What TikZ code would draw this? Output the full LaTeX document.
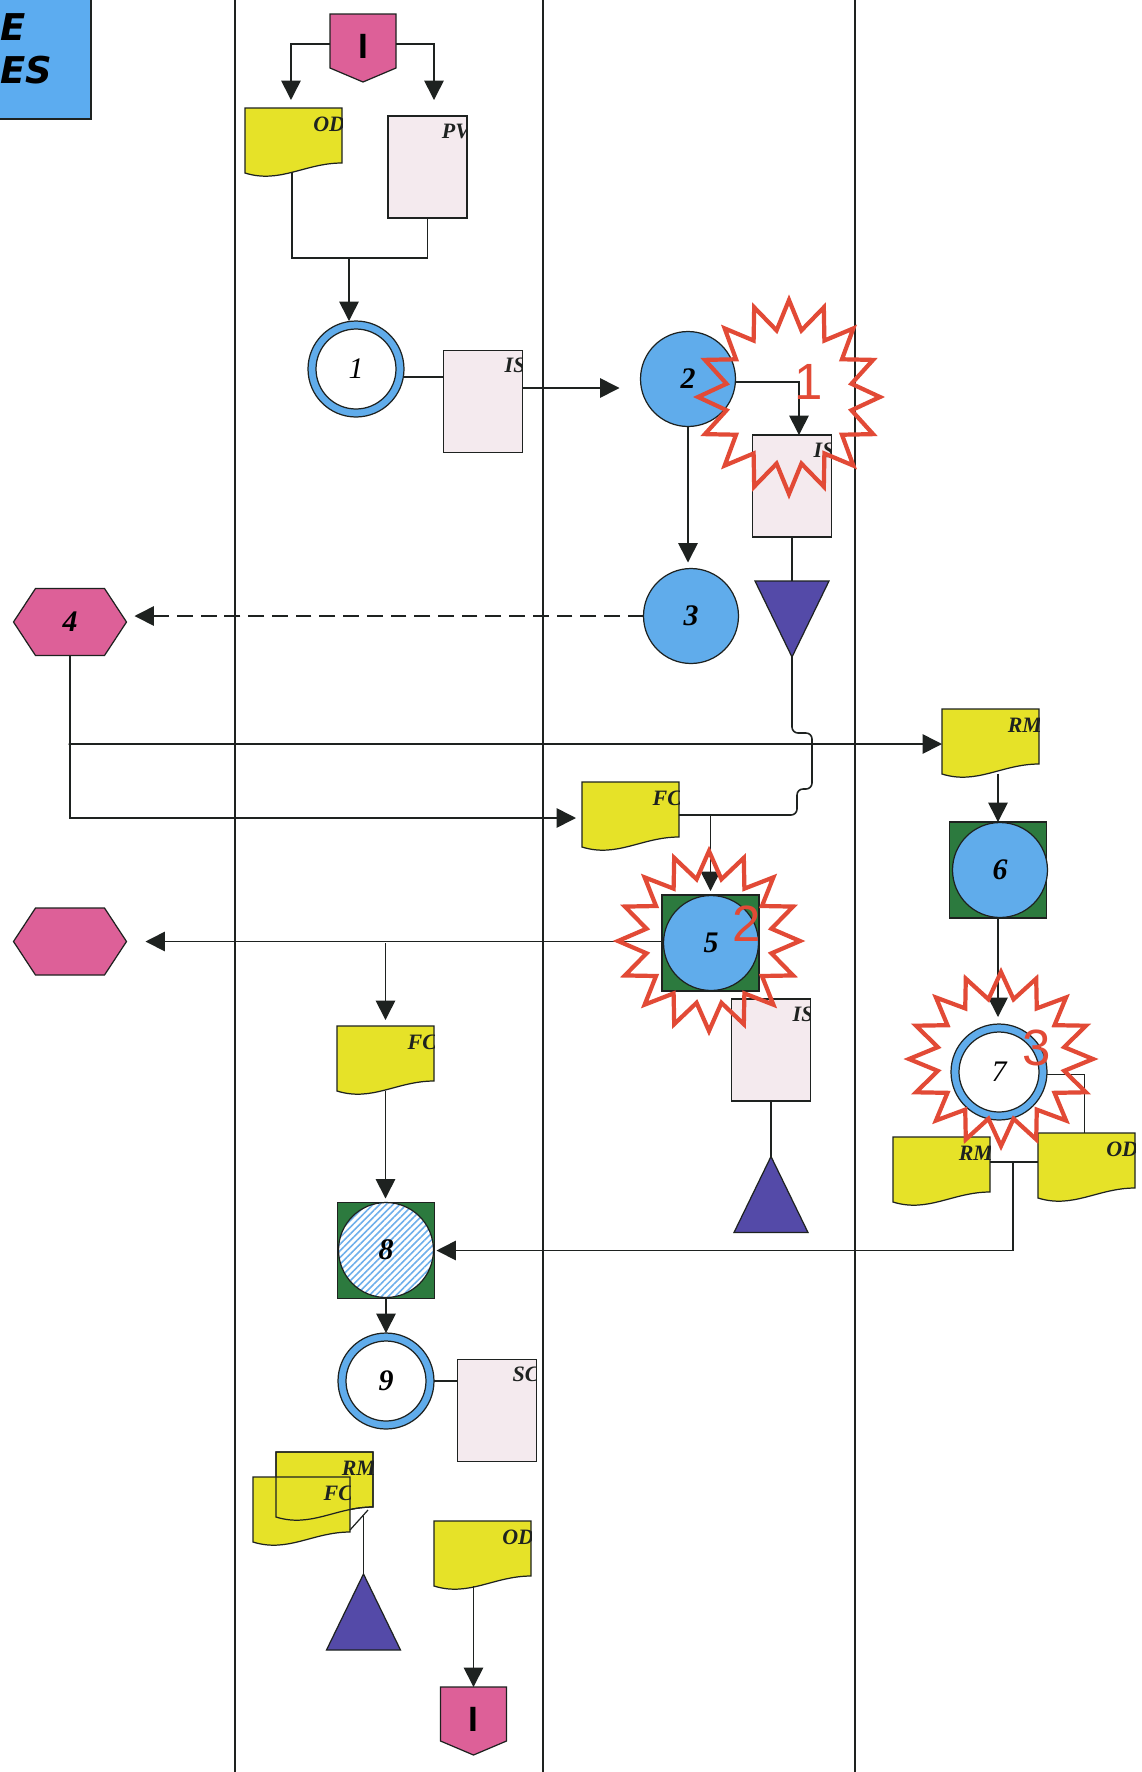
\documentclass[tikz,border=0pt]{standalone}
\usepackage{fontspec}
\setmainfont{Liberation Serif}
\newfontfamily\burstfont{Liberation Sans}
\newfontfamily\headfont{DejaVu Sans}[BoldItalicFont={DejaVu Sans Bold Oblique}]
\usetikzlibrary{arrows.meta,calc,patterns.meta}

\definecolor{discblue}{RGB}{96,172,235}
\definecolor{boxgreen}{RGB}{44,122,62}
\definecolor{docyellow}{RGB}{230,226,40}
\definecolor{sheet}{RGB}{244,234,238}
\definecolor{hexpink}{RGB}{221,96,152}
\definecolor{store}{RGB}{84,74,168}
\definecolor{burstred}{RGB}{226,74,54}
\definecolor{headblue}{RGB}{92,172,240}
\definecolor{hatchblue}{RGB}{110,175,235}
\definecolor{ink}{RGB}{30,34,32}

\newcommand\mytag{\fontsize{12.5}{13}\selectfont\bfseries\itshape}
\newcommand\mynum{\fontsize{17}{18}\selectfont\bfseries\itshape}
\newcommand\mynumthin{\fontsize{17}{18}\selectfont\itshape}
\newcommand\myburstnum{\burstfont\fontsize{29}{30}\selectfont}
\newcommand\myhead{\headfont\fontsize{21}{22}\selectfont\bfseries\itshape}
\newcommand\mygate{\burstfont\fontsize{20}{20}\selectfont\bfseries}

% document symbol with wavy lower edge, local units, origin at top left
\newcommand\docpath{(0,0) -- (97,0) -- (97,55) .. controls (60,55) and (35,76) .. (0,65) -- cycle}

\newcommand\drawdoc[3]{%
  \begin{scope}[shift={(#1.north west)}]
    \fill[docyellow] \docpath;
    \begin{scope}
      \clip \docpath;
      \node[tag, anchor=base east] (#3) at (100,23) {#2};
    \end{scope}
    \draw[outline] \docpath;
  \end{scope}}
% corner label of a sheet, clipped to the sheet
\newcommand\sheettag[3]{%
  \begin{scope}
    \clip (#1.north west) rectangle (#1.south east);
    \node[tag, anchor=base east] (#3) at ($(#1.north east)+(3,22)$) {#2};
  \end{scope}
  \draw[outline] (#1.north west) rectangle (#1.south east);}
\newcommand\drawhex[1]{\draw[outline, fill=hexpink, shift={(#1.center)}]
  (-56.5,0) -- (-34.5,-33.5) -- (34.5,-33.5) -- (56.5,0) -- (34.5,33.5) -- (-34.5,33.5) -- cycle;}
\newcommand\drawgate[1]{\draw[outline, fill=hexpink, shift={(#1.center)}]
  (-33,-34) -- (33,-34) -- (33,20) -- (0,34) -- (-33,20) -- cycle;}
\newcommand\drawfunneldown[1]{\draw[outline, fill=store, shift={(#1.center)}]
  (-37,-38) -- (37,-38) -- (0,38) -- cycle;}
\newcommand\drawfunnelup[1]{\draw[outline, fill=store, shift={(#1.center)}]
  (0,-38) -- (37,38) -- (-37,38) -- cycle;}
\newcommand\drawburst[3]{\draw[burstline, shift={(#1)}]
  plot[samples at={0,...,31}, variable=\k]
  ({(1-0.3*mod(\k,2))*#2*cos(90+\k*11.25)}, {(1-0.3*mod(\k,2))*#3*sin(90+\k*11.25)}) -- cycle;}

\tikzset{
  every node/.style={inner sep=0pt, outer sep=0pt},
  lane/.style={draw=ink, line width=1.1pt},
  outline/.style={draw=ink, line width=0.7pt},
  conn/.style={draw=ink, line width=0.9pt},
  arr/.style={conn, -{Triangle[length=11pt, width=11pt]}},
  tag/.style={font=\mytag, text=ink},
  disc/.style={circle, outline, fill=discblue, minimum size=1.9cm, font=\mynum},
  ring/.style={circle, outline, fill=discblue, minimum size=1.92cm, font=\mynum,
    path picture={\draw[outline, fill=white] (path picture bounding box.center) circle (0.8cm);}},
  hatchdisc/.style={circle, outline, preaction={fill=white},
    pattern={Lines[angle=45, distance=2.7pt, line width=0.9pt]}, pattern color=hatchblue,
    minimum size=1.9cm, font=\mynum},
  greenbox/.style={rectangle, outline, fill=boxgreen, minimum width=1.94cm, minimum height=1.92cm},
  sheetbox/.style={rectangle, fill=sheet, minimum width=1.58cm, minimum height=2.04cm},
  docbox/.style={rectangle, anchor=north west, minimum width=1.94cm, minimum height=1.3cm},
  hexbox/.style={rectangle, minimum width=2.26cm, minimum height=1.34cm},
  gatebox/.style={rectangle, minimum width=1.32cm, minimum height=1.36cm},
  funnelbox/.style={rectangle, minimum width=1.48cm, minimum height=1.52cm},
  burstline/.style={draw=burstred, line width=2.4pt},
  burstnum/.style={font=\myburstnum, text=burstred},
  headbox/.style={rectangle, outline, fill=headblue, minimum width=2.4cm, minimum height=2.6cm},
}

\begin{document}
\begin{tikzpicture}[x=0.02cm, y=-0.02cm]
\useasboundingbox (0,0) rectangle (1142,1772);
\clip (0,0) rectangle (1142,1772);
\fill[white] (0,0) rectangle (1142,1772);

% swim lanes
\draw[lane] (235,0) -- (235,1772);
\draw[lane] (543,0) -- (543,1772);
\draw[lane] (855,0) -- (855,1772);

% heading box
\node[headbox, anchor=south east] (head) at (91,119) {};
\node[font=\myhead, anchor=base west] (head-a) at (0,40) {E};
\node[font=\myhead, anchor=base west] (head-b) at (0,83) {ES};

% ---------- nodes ----------
\node[gatebox] (pent1) at (363,48) {};
\drawgate{pent1}
\node[font=\mygate] (pent1-t) at (363,46) {I};

\node[docbox] (od1) at (245,108) {};
\drawdoc{od1}{OD}{od1-t}
\node[sheetbox] (pv) at (427.5,167) {};
\sheettag{pv}{PV}{pv-t}

\node[ring, font=\mynumthin] (c1) at (356,369) {1};
\node[sheetbox] (is1) at (483,401.5) {};
\sheettag{is1}{IS}{is1-t}
\node[disc] (c2) at (688,379) {2};
\node[sheetbox] (is2) at (792,486) {};
\sheettag{is2}{IS}{is2-t}
\node[disc] (c3) at (691,616) {3};
\node[funnelbox] (tri1) at (792,619) {};
\drawfunneldown{tri1}

\node[hexbox] (hex4) at (70,622) {};
\drawhex{hex4}
\node[font=\mynum] (hex4-t) at (hex4.center) {4};

\node[docbox] (rm1) at (942,709) {};
\drawdoc{rm1}{RM}{rm1-t}
\node[docbox] (fc1) at (582,782) {};
\drawdoc{fc1}{FC}{fc1-t}

\node[greenbox] (box5) at (710.5,943) {};
\node[disc] (c5) at (711,943) {5};
\node[hexbox] (hex2) at (70,941.5) {};
\drawhex{hex2}

\node[greenbox] (box6) at (998,870) {};
\node[disc] (c6) at (1000,870) {6};
\node[ring, font=\mynumthin] (c7) at (999,1072) {7};

\node[docbox] (fc2) at (337,1026) {};
\drawdoc{fc2}{FC}{fc2-t}
\node[sheetbox] (is3) at (771,1050) {};
\sheettag{is3}{IS}{is3-t}
\node[funnelbox] (tri3) at (771,1194.5) {};
\drawfunnelup{tri3}

\node[docbox] (rm2) at (893,1137) {};
\drawdoc{rm2}{RM}{rm2-t}
\node[docbox] (od3) at (1038,1133) {};
\drawdoc{od3}{OD}{od3-t}

\node[greenbox] (box8) at (386,1250.5) {};
\node[hatchdisc] (c8) at (386,1250) {8};
\node[ring] (c9) at (386,1381) {9};
\node[sheetbox] (sc) at (497,1410.5) {};
\sheettag{sc}{SC}{sc-t}

\node[docbox] (rm3) at (276,1452) {};
\drawdoc{rm3}{RM}{rm3-t}
\node[docbox] (fc3) at (253,1477) {};
\drawdoc{fc3}{FC}{fc3-t}
\begin{scope}[shift={(rm3.north west)}]
  \draw[outline] \docpath;
\end{scope}
\node[funnelbox] (tri4) at (363.5,1612) {};
\drawfunnelup{tri4}

\node[docbox] (od4) at (434,1521) {};
\drawdoc{od4}{OD}{od4-t}
\node[gatebox] (pent2) at (473.5,1721) {};
\drawgate{pent2}
\node[font=\mygate] (pent2-t) at (473.5,1719) {I};

% ---------- connectors ----------
\coordinate (m1) at (349,258);
\coordinate (j4) at (70,744);
\coordinate (hop1) at (792,733);
\coordinate (hop2) at (812,733);
\coordinate (hop3) at (812,789);
\coordinate (hop4) at (797,789);
\coordinate (hop5) at (797,815);
\coordinate (j5) at (box5.north |- hop5);
\coordinate (j6) at (fc2.north |- box5.west);
\coordinate (j7) at (1013,1162);
\coordinate (dg1) at (368,1510);
\coordinate (dg2) at (350,1530);
\coordinate (s1) at (363.5,1516);

\draw[arr, shorten >=0.16cm] ([yshift=0.08cm]pent1.west) -| ([xshift=-0.05cm]od1.north);
\draw[arr, shorten >=0.32cm] ([yshift=0.08cm]pent1.east) -| ([xshift=0.13cm]pv.north);
\draw[conn] ([xshift=-0.03cm]od1.south) |- (m1) -| (pv.south);
\draw[arr] (m1) -- (m1 |- c1.north);

\draw[conn] ([yshift=-0.16cm]c1.east) -- ([yshift=-0.16cm]c1.east -| is1.west);
\draw[arr, shorten >=0.42cm] ([yshift=-0.18cm]c2.west -| is1.east) -- ([yshift=-0.18cm]c2.west);
\draw[arr] ([yshift=-0.06cm]c2.east) -| ([xshift=0.14cm]is2.north);
\draw[arr, shorten >=0.12cm] (c2.south) -- (c2.south |- c3.north);
\draw[conn] (is2.south) -- (tri1.north);

\draw[arr, dash pattern=on 9pt off 4.5pt, shorten >=0.16cm] (c3.west) -- (c3.west -| hex4.east);
\draw[arr, shorten >=0.12cm] (hex4.south) |- ([yshift=-0.07cm]fc1.west);
\draw[arr] (j4) -- (j4 -| rm1.west);
\fill[ink] (j4) circle (0.035cm);

\draw[conn, rounded corners=0.12cm] (tri1.south) -- (hop1) -- (hop2) -- (hop3) -- (hop4) -- (hop5) -- (fc1.east |- hop5);
\draw[arr, shorten >=0.08cm] (j5) -- (box5.north);

\draw[arr, shorten >=0.38cm] ([yshift=0.03cm]box5.west) -- ([yshift=0.03cm]box5.west -| hex2.east);
\draw[arr, shorten >=0.12cm] (j6) -- (fc2.north);
\draw[arr, shorten >=0.08cm] (fc2.south) -- (fc2.south |- box8.north);
\draw[conn] (is3.south) -- (tri3.north);

\draw[arr] (box6.north |- rm1.south) -- (box6.north);
\draw[arr, shorten >=0.14cm] (box6.south) -- (box6.south |- c7.north);
\draw[conn] ([yshift=-0.05cm]c7.east) -| ([xshift=-0.04cm]od3.north);
\draw[conn] (rm2.east |- j7) -- (od3.west |- j7);
\draw[arr, shorten >=0.04cm] (j7) |- (box8.east);

\draw[arr] (box8.south) -- (c9.north);
\draw[conn] (c9.east) -- (c9.east -| sc.west);

\draw[outline] (dg1) -- (dg2);
\draw[conn] (tri4.north) -- (s1);
\draw[arr] (pent2.north |- od4.south) -- (pent2.north);

% ---------- highlight bursts ----------
\drawburst{789,397}{91}{97}
\drawburst{709,941}{91}{90}
\drawburst{1001,1059}{92}{87}
\node[burstnum] (b1-t) at (809,382) {1};
\node[burstnum] (b2-t) at (747,924) {2};
\node[burstnum] (b3-t) at (1037,1048) {3};
\end{tikzpicture}
\end{document}
